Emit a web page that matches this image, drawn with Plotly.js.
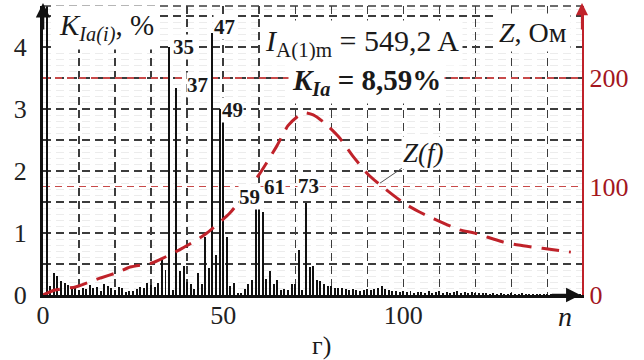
<!DOCTYPE html>
<html>
<head>
<meta charset="utf-8">
<script src="https://cdn.plot.ly/plotly-3.0.1.min.js"></script>
<style>
  html, body { margin: 0; padding: 0; background: #fff; }
  #chart { width: 644px; height: 360px; }
</style>
</head>
<body>
<div id="chart"></div>
<script>
// Harmonic orders n of the phase-A current spectrum
const harmonicOrders = [
  1, 2, 3, 4, 5, 6, 7, 8, 9, 10, 11, 12, 13, 14, 15, 16, 17, 18, 19, 20,
  21, 22, 23, 24, 25, 26, 27, 28, 29, 30, 31, 32, 33, 34, 35, 36, 37, 38, 39, 40,
  41, 42, 43, 44, 45, 46, 47, 48, 49, 50, 51, 52, 53, 54, 55, 56, 57, 58, 59, 60,
  61, 62, 63, 64, 65, 66, 67, 68, 69, 70, 71, 72, 73, 74, 75, 76, 77, 78, 79, 80,
  81, 82, 83, 84, 85, 86, 87, 88, 89, 90, 91, 92, 93, 94, 95, 96, 97, 98, 99, 100,
  101, 102, 103, 104, 105, 106, 107, 108, 109, 110, 111, 112, 113, 114, 115, 116, 117, 118, 119, 120,
  121, 122, 123, 124, 125, 126, 127, 128, 129, 130, 131, 132, 133, 134, 135, 136, 137, 138, 139, 140,
  141, 142, 143, 144, 145, 146, 147, 148, 149
];

// Harmonic content K_Ia(i), % of the fundamental
const harmonicPercent = [
  100, 0.15, 0.35, 0.30, 0.22, 0.19, 0.16, 0.10, 0.13, 0.08,
  0.11, 0.09, 0.16, 0.12, 0.13, 0.07, 0.17, 0.14, 0.11, 0.08,
  0.13, 0.12, 0.05, 0.06, 0.07, 0.09, 0.13, 0.11, 0.19, 0.16,
  0.13, 0.19, 0.59, 0.40, 4.00, 0.08, 3.33, 0.38, 0.47, 0.21,
  0.17, 0.10, 0.35, 0.18, 0.94, 0.43, 4.22, 0.65, 3.00, 2.95,
  0.94, 0.15, 0.19, 0.04, 0.04, 0.10, 0.18, 0.24, 1.42, 1.38,
  1.34, 0.26, 0.38, 0.17, 0.24, 0.08, 0.09, 0.08, 0.18, 0.18,
  0.73, 0.08, 1.48, 0.45, 0.46, 0.25, 0.22, 0.18, 0.15, 0.14,
  0.12, 0.11, 0.11, 0.09, 0.08, 0.09, 0.08, 0.07, 0.08, 0.10,
  0.08, 0.09, 0.11, 0.14, 0.10, 0.08, 0.06, 0.07, 0.05, 0.06,
  0.05, 0.06, 0.04, 0.05, 0.05, 0.04, 0.06, 0.04, 0.05, 0.07,
  0.04, 0.05, 0.04, 0.05, 0.06, 0.04, 0.05, 0.04, 0.05, 0.04,
  0.03, 0.04, 0.03, 0.02, 0.03, 0.02, 0.03, 0.02, 0.02, 0.03,
  0.02, 0.02, 0.03, 0.02, 0.02, 0.01, 0.02, 0.01, 0.02, 0.01,
  0.01, 0.01, 0.01, 0.01, 0.01, 0.01, 0.01, 0.01, 0.01
];

// Network impedance frequency response Z(f), Ohm, versus harmonic order
const impedanceOrders = [
  0, 3.3, 9, 12.9, 16, 20.8, 24.2, 30.2, 33.3, 38.6, 43.5, 45.4, 51.8, 56,
  60.2, 64.8, 68, 70.5, 72.5, 75, 78, 82, 86, 90, 93, 100, 104.5, 108,
  115.6, 119.8, 127.5, 132, 138.6, 146.5
];
const impedanceOhm = [
  0, 4.6, 7.4, 12, 15.7, 21, 25.8, 29.5, 34, 43, 52.5, 56.9, 75.3, 93,
  112, 136.7, 156, 164, 168, 166, 159, 146, 128, 112, 103, 85, 76.5, 71,
  60, 57, 49, 46, 43, 39.5
];

// Labelled harmonics
const peakLabels = ['35', '37', '47', '49', '59', '61', '73'];

// Axis ticks
const xTickVals = [0, 10, 20, 30, 40, 50, 60, 70, 80, 90, 100, 110, 120, 130, 140];
const xTickText = ['0', '', '', '', '', '50', '', '', '', '', '100', '', '', '', ''];
const yTickVals = [0, 0.5, 1, 1.5, 2, 2.5, 3, 3.5, 4, 4.5];
const yTickText = ['0', '', '1', '', '2', '', '3', '', '4', ''];
const zTickVals = [0, 100, 200];
const zTickText = ['0', '100', '200'];

const SERIF = 'Liberation Serif, Times New Roman, serif';
const RED = '#c0222a';
const DARKRED = '#a3161e';
const GRID = '#3c3c3c';

const xMax = 149.6;
const yMax = 4.66;
const zMax = yMax * 200 / 3.5;

const bars = {
  type: 'bar',
  x: harmonicOrders,
  y: harmonicPercent,
  width: 0.55,
  marker: { color: '#111111', line: { width: 0 } },
  hoverinfo: 'x+y',
  xaxis: 'x', yaxis: 'y'
};

const impedance = {
  type: 'scatter',
  mode: 'lines',
  x: impedanceOrders,
  y: impedanceOhm,
  line: { color: RED, width: 3, dash: '18px,10px', shape: 'spline', smoothing: 0.6 },
  xaxis: 'x', yaxis: 'y2',
  hoverinfo: 'x+y'
};

// label positions in paper coordinates
const peakPos = [
  [0.239, 0.903], [0.2653, 0.7716], [0.3154, 0.9723], [0.3525, 0.685],
  [0.3822, 0.339], [0.4304, 0.3287], [0.4935, 0.377]
];

const annotations = peakLabels.map((t, i) => ({
  xref: 'paper', yref: 'paper', x: peakPos[i][0], y: peakPos[i][1],
  text: '<b>' + t + '</b>', showarrow: false,
  font: { family: SERIF, size: 21, color: '#1a1a1a' },
  bgcolor: '#ffffff', borderpad: 0
}));

annotations.push(
  {
    xref: 'paper', yref: 'paper', x: 0.022, y: 0.925, xanchor: 'left', yanchor: 'middle',
    text: '<i>K</i><sub><i>Ia(i)</i></sub>, %', showarrow: false,
    font: { family: SERIF, size: 29, color: '#1a1a1a' }, bgcolor: '#ffffff', borderpad: 3
  },
  {
    xref: 'paper', yref: 'paper', x: 0.404, y: 0.872, xanchor: 'left', yanchor: 'middle',
    text: '<i>I</i><sub>A(1)m</sub> = 549,2 A', showarrow: false,
    font: { family: SERIF, size: 30, color: '#1a1a1a' }, bgcolor: '#ffffff', borderpad: 3
  },
  {
    xref: 'paper', yref: 'paper', x: 0.455, y: 0.737, xanchor: 'left', yanchor: 'middle',
    text: '<b><i>K</i><sub><i>Ia</i></sub> = 8,59%</b>', showarrow: false,
    font: { family: SERIF, size: 29, color: '#1a1a1a' }, bgcolor: '#ffffff', borderpad: 3
  },
  {
    xref: 'paper', yref: 'paper', x: 0.8386, y: 0.91, xanchor: 'left', yanchor: 'middle',
    text: '<i>Z</i>, Ом', showarrow: false,
    font: { family: SERIF, size: 28, color: '#1a1a1a' }, bgcolor: '#ffffff', borderpad: 3
  },
  {
    xref: 'x', yref: 'y2', x: 93.5, y: 103,
    text: '<i>Z(f)</i>', showarrow: true, arrowhead: 0, arrowwidth: 1, arrowcolor: '#555',
    ax: 44, ay: -30,
    font: { family: SERIF, size: 27, color: '#1a1a1a' }, bgcolor: '#ffffff', borderpad: 1
  },
  {
    xref: 'paper', yref: 'paper', x: 0.9685, y: -0.075, xanchor: 'center', yanchor: 'middle',
    text: '<i>n</i>', showarrow: false, font: { family: SERIF, size: 28, color: '#1a1a1a' }
  },
  {
    xref: 'paper', yref: 'paper', x: 0.5176, y: -0.176, xanchor: 'center', yanchor: 'middle',
    text: 'г)', showarrow: false, font: { family: SERIF, size: 26, color: '#1a1a1a' }
  },
  // axis arrowheads
  {
    xref: 'paper', yref: 'paper', x: 0, y: 1.01, ax: 0, ay: 28, text: '',
    showarrow: true, arrowhead: 2, arrowsize: 1.1, arrowwidth: 2.6, arrowcolor: '#111'
  },
  {
    xref: 'paper', yref: 'paper', x: 1, y: 1.01, ax: 0, ay: 28, text: '',
    showarrow: true, arrowhead: 2, arrowsize: 1.1, arrowwidth: 2.2, arrowcolor: RED
  },
  {
    xref: 'paper', yref: 'paper', x: 0.997, y: 0, ax: -30, ay: 0, text: '',
    showarrow: true, arrowhead: 2, arrowsize: 1.1, arrowwidth: 2.6, arrowcolor: '#111'
  }
);

const layout = {
  width: 644, height: 360,
  margin: { l: 43, r: 62, t: 6, b: 65 },
  paper_bgcolor: '#ffffff', plot_bgcolor: '#ffffff',
  showlegend: false,
  bargap: 0,
  font: { family: SERIF, size: 26, color: '#222' },
  xaxis: {
    range: [0, xMax], tickmode: 'array', tickvals: xTickVals, ticktext: xTickText,
    showgrid: true, gridcolor: GRID, gridwidth: 1.4, griddash: '8px,5px',
    showline: true, linecolor: '#111', linewidth: 2.6,
    zeroline: false, ticks: '', ticklabelstandoff: -5,
    tickfont: { family: SERIF, size: 26, color: '#222' }
  },
  yaxis: {
    range: [0, yMax], tickmode: 'array', tickvals: yTickVals, ticktext: yTickText,
    showgrid: true, gridcolor: GRID, gridwidth: 1.4, griddash: '8px,5px',
    minor: { dtick: 0.1, showgrid: true, gridcolor: '#ececec', gridwidth: 1 },
    showline: true, linecolor: '#111', linewidth: 3,
    zeroline: false, ticks: '', ticklabelstandoff: 8,
    tickfont: { family: SERIF, size: 26, color: '#222' }
  },
  yaxis2: {
    overlaying: 'y', side: 'right', range: [0, zMax],
    tickmode: 'array', tickvals: zTickVals, ticktext: zTickText,
    showgrid: true, gridcolor: '#c84a4a', gridwidth: 1.2, griddash: '7px,5px',
    showline: true, linecolor: RED, linewidth: 2.2,
    zeroline: false, ticks: '', ticklabelstandoff: 0,
    tickfont: { family: SERIF, size: 26, color: DARKRED }
  },
  shapes: [
    {
      type: 'line', xref: 'paper', yref: 'paper', x0: 0, x1: 1, y0: 1, y1: 1,
      line: { color: GRID, width: 1.4, dash: '8px,5px' }
    }
  ],
  annotations: annotations
};

Plotly.newPlot('chart', [bars, impedance], layout, { staticPlot: true, displayModeBar: false });
</script>
</body>
</html>
